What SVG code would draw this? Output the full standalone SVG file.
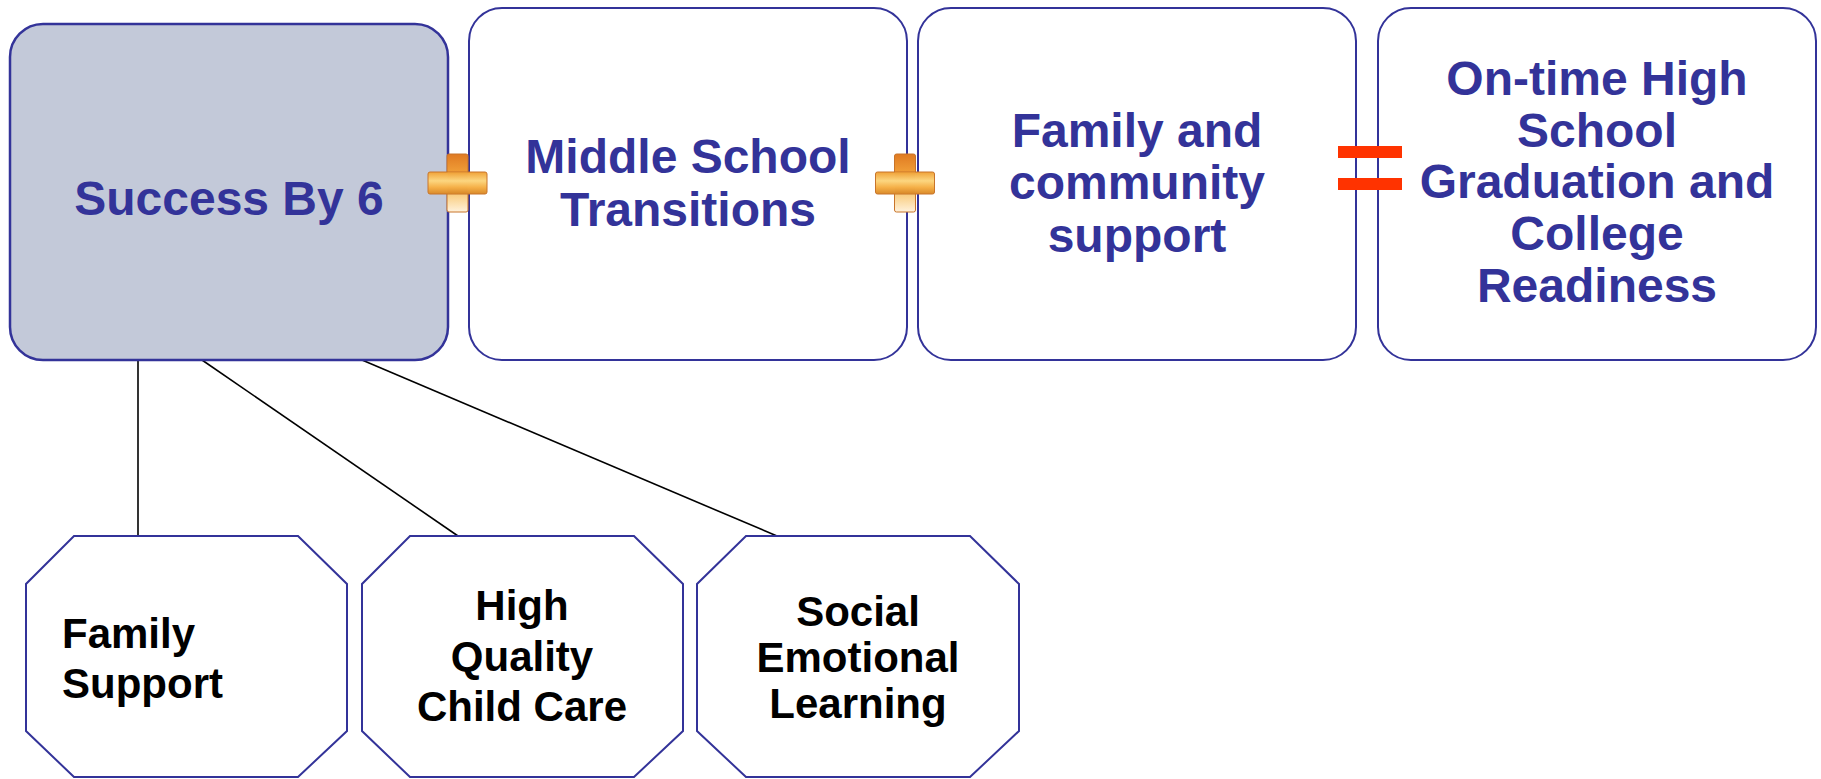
<svg xmlns="http://www.w3.org/2000/svg" width="1821" height="779" viewBox="0 0 1821 779">
<style>
.box{fill:#FFFFFF;stroke:#333399;stroke-width:2}
.box1{fill:#C3C9D9;stroke:#333399;stroke-width:2.5}
.oct{fill:#FFFFFF;stroke:#333399;stroke-width:2}
.t{font-family:"Liberation Sans",Arial,sans-serif;font-weight:bold;font-size:48px;fill:#333399;text-anchor:middle}
.o{font-family:"Liberation Sans",Arial,sans-serif;font-weight:bold;font-size:42px;fill:#000000;text-anchor:middle}
.conn{stroke:#000000;stroke-width:1.6;fill:none}
.eq{fill:#FF3300}
</style>
<defs>
<linearGradient id="plusV" x1="0" y1="0" x2="0" y2="1">
<stop offset="0" stop-color="#E07A22"/>
<stop offset="0.35" stop-color="#F2A23A"/>
<stop offset="0.6" stop-color="#F7C060"/>
<stop offset="1" stop-color="#FFF2DC"/>
</linearGradient>
<linearGradient id="plusH" x1="0" y1="0" x2="0" y2="1">
<stop offset="0" stop-color="#F0A238"/>
<stop offset="0.4" stop-color="#FCD680"/>
<stop offset="0.7" stop-color="#F5B048"/>
<stop offset="1" stop-color="#D98A2A"/>
</linearGradient>
<g id="plus">
<rect x="-10.5" y="-29" width="21" height="58" rx="2" fill="url(#plusV)" stroke="#C8742A" stroke-width="1"/>
<rect x="-29.5" y="-11" width="59" height="22" rx="2" fill="url(#plusH)" stroke="#C8742A" stroke-width="1"/>
<rect x="-10" y="-10.5" width="20" height="21" fill="url(#plusH)"/>
</g>
</defs>
<rect width="1821" height="779" fill="#FFFFFF"/>

<g id="connectors">
<line class="conn" x1="138" y1="360" x2="138" y2="536"/>
<line class="conn" x1="202" y1="360" x2="458" y2="536"/>
<line class="conn" x1="362" y1="360" x2="777" y2="536"/>
</g>

<g id="node-success">
<rect class="box1" x="10" y="24" width="438" height="336" rx="33" ry="33"/>
<text class="t" x="229" y="215">Success By 6</text>
</g>

<g id="node-middle">
<rect class="box" x="469" y="8" width="438" height="352" rx="33" ry="33"/>
<text class="t" x="688" y="173">Middle School</text>
<text class="t" x="688" y="226">Transitions</text>
</g>

<g id="node-family-community">
<rect class="box" x="918" y="8" width="438" height="352" rx="33" ry="33"/>
<text class="t" x="1137" y="147">Family and</text>
<text class="t" x="1137" y="199">community</text>
<text class="t" x="1137" y="252">support</text>
</g>

<g id="node-graduation">
<rect class="box" x="1378" y="8" width="438" height="352" rx="33" ry="33"/>
<text class="t" x="1597" y="95">On-time High</text>
<text class="t" x="1597" y="147">School</text>
<text class="t" x="1597" y="198">Graduation and</text>
<text class="t" x="1597" y="250">College</text>
<text class="t" x="1597" y="302">Readiness</text>
</g>

<g id="op-plus-1">
<use href="#plus" x="457.5" y="183"/>
</g>
<g id="op-plus-2">
<use href="#plus" x="905" y="183"/>
</g>
<g id="op-equals">
<rect class="eq" x="1338" y="146" width="64" height="12"/>
<rect class="eq" x="1338" y="178" width="64" height="12"/>
</g>

<g id="node-family-support">
<polygon class="oct" points="74,536 298,536 347,584 347,731 298,777 74,777 26,731 26,584"/>
<text class="o" x="62" y="648" style="text-anchor:start">Family</text>
<text class="o" x="62" y="698" style="text-anchor:start">Support</text>
</g>

<g id="node-child-care">
<polygon class="oct" points="410,536 634,536 683,584 683,731 634,777 410,777 362,731 362,584"/>
<text class="o" x="522" y="620">High</text>
<text class="o" x="522" y="671">Quality</text>
<text class="o" x="522" y="721">Child Care</text>
</g>

<g id="node-social-emotional">
<polygon class="oct" points="746,536 970,536 1019,584 1019,731 970,777 746,777 697,731 697,584"/>
<text class="o" x="858" y="626">Social</text>
<text class="o" x="858" y="672">Emotional</text>
<text class="o" x="858" y="718">Learning</text>
</g>
</svg>
